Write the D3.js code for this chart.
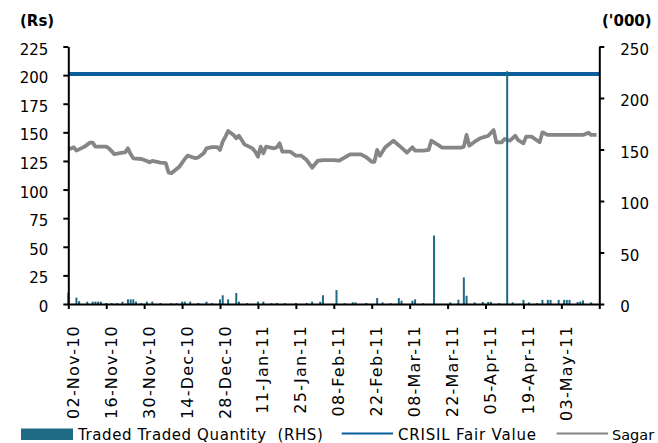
<!DOCTYPE html>
<html>
<head>
<meta charset="utf-8">
<script src="https://cdn.jsdelivr.net/npm/d3@7"></script>
<style>
body { margin: 0; background: #fff; }
text { font-family: "DejaVu Sans", Verdana, sans-serif; }
</style>
</head>
<body>
<div id="chart"></div>
<script>
//Chart values
var priceDates = ["2010-11-02","2010-11-04","2010-11-05","2010-11-08","2010-11-10","2010-11-11","2010-11-12",
    "2010-11-16","2010-11-17","2010-11-19","2010-11-22","2010-11-23","2010-11-24","2010-11-25","2010-11-26",
    "2010-11-29","2010-12-01","2010-12-02","2010-12-03","2010-12-06","2010-12-08","2010-12-09","2010-12-10",
    "2010-12-13","2010-12-15","2010-12-16","2010-12-19","2010-12-20","2010-12-22","2010-12-23","2010-12-25",
    "2010-12-27","2010-12-28","2010-12-29","2010-12-30","2010-12-31","2011-01-02","2011-01-03","2011-01-04",
    "2011-01-06","2011-01-09","2011-01-10","2011-01-11","2011-01-12","2011-01-13","2011-01-14","2011-01-17",
    "2011-01-18","2011-01-19","2011-01-20","2011-01-23","2011-01-25","2011-01-27","2011-01-29","2011-01-31",
    "2011-02-02","2011-02-04","2011-02-08","2011-02-10","2011-02-14","2011-02-18","2011-02-20","2011-02-22",
    "2011-02-23","2011-02-24","2011-02-25","2011-02-27","2011-03-02","2011-03-05","2011-03-07","2011-03-09",
    "2011-03-10","2011-03-13","2011-03-15","2011-03-16","2011-03-18","2011-03-20","2011-03-22","2011-03-27",
    "2011-03-28","2011-03-29","2011-03-30","2011-04-01","2011-04-03","2011-04-05","2011-04-06","2011-04-08",
    "2011-04-09","2011-04-11","2011-04-12","2011-04-14","2011-04-16","2011-04-17","2011-04-19","2011-04-20",
    "2011-04-22","2011-04-25","2011-04-26","2011-04-28","2011-05-01","2011-05-11","2011-05-13","2011-05-14",
    "2011-05-16"];
var priceValues = [135,137,134,137.5,141,141,137.5,
    137.5,136,131,132.2,132.5,136,131,127.3,
    126.7,125,123.8,125,123.5,123,115,114.2,
    120,126.7,129.6,127.3,128.2,131.7,136,137,
    137,134.6,141.8,146.2,151.2,147.7,144.8,147,
    139.5,136,133.1,128.7,137.5,131.7,137.5,136,
    137,140.4,133.1,133.1,129.6,129.6,125.8,119.1,
    125,125.8,125.8,125.2,130.8,130.8,128.2,124.3,
    124.3,134.6,129.6,137,142.7,136.6,132.2,137,
    134,134,134.6,142.7,139.8,136.6,136.6,136.6,
    137.5,147.7,138.3,141.8,144.8,146.2,147,152,
    141.3,141.3,144.2,142.7,147,143.3,140.4,146.2,
    146.2,141.3,150,147.7,147.7,147.7,149.7,147.7,
    147.7];

var qtyDates = ["2010-11-02","2010-11-05","2010-11-06","2010-11-09","2010-11-11","2010-11-12","2010-11-13",
    "2010-11-14","2010-11-16","2010-11-18","2010-11-20","2010-11-22","2010-11-24","2010-11-25","2010-11-26",
    "2010-11-27","2010-11-29","2010-12-01","2010-12-03","2010-12-06","2010-12-10","2010-12-12","2010-12-14",
    "2010-12-15","2010-12-17","2010-12-20","2010-12-23","2010-12-25","2010-12-28","2010-12-29","2010-12-31",
    "2011-01-03","2011-01-04","2011-01-07","2011-01-11","2011-01-13","2011-01-16","2011-01-18","2011-01-21",
    "2011-01-25","2011-01-29","2011-01-31","2011-02-03","2011-02-04","2011-02-09","2011-02-12","2011-02-15",
    "2011-02-16","2011-02-20","2011-02-24","2011-02-26","2011-03-01","2011-03-04","2011-03-05","2011-03-09",
    "2011-03-10","2011-03-13","2011-03-17","2011-03-23","2011-03-26","2011-03-28","2011-03-29","2011-04-01",
    "2011-04-04","2011-04-06","2011-04-07","2011-04-10","2011-04-13","2011-04-15","2011-04-19","2011-04-21",
    "2011-04-24","2011-04-26","2011-04-28","2011-04-29","2011-05-02","2011-05-04","2011-05-05","2011-05-06",
    "2011-05-09","2011-05-10","2011-05-11","2011-05-14"];
var qtyValues = [10.8,6.2,2.8,2.3,2.3,2.3,2.3,
    2.3,1,1,0.8,2.3,4.5,4.5,4.5,
    2.3,0.8,2.3,2.3,1,0.8,0.8,2.3,
    2.3,2.3,1,2.3,0.8,4.5,8.5,4.5,
    10.7,2.3,0.8,2.3,2.3,0.8,1,0.8,
    1,1,2.3,2.3,8.5,13.5,0.8,1.6,
    1.6,1,5.8,1.6,0.8,5.8,3.2,3.2,
    4.5,0.8,66.5,1.6,4.2,25.8,8,1.6,
    2,2,2,0.8,226,1.6,4,1.6,
    0.8,4,4,4,4,4,4,4,
    2,2.5,3.5,1.6];

var fairValue = 201;

var xTickLabels = ["02-Nov-10","16-Nov-10","30-Nov-10","14-Dec-10","28-Dec-10","11-Jan-11","25-Jan-11",
    "08-Feb-11","22-Feb-11","08-Mar-11","22-Mar-11","05-Apr-11","19-Apr-11","03-May-11"];
var xEnd = "17-May-11";
var leftTicks = [0, 25, 50, 75, 100, 125, 150, 175, 200, 225];
var rightTicks = [0, 50, 100, 150, 200, 250];
var legendLabels = ["Traded Traded Quantity  (RHS)", "CRISIL Fair Value", "Sagar"];

//SVG dimensions
var svgWidth = 658;
var svgHeight = 443;
var plot = { left: 68.3, right: 599.3, top: 46.5, bottom: 304 };

var barColor = "#1f6a85";
var fairColor = "#0a5e9c";
var priceColor = "#868686";

var svg = d3.select("#chart")
    .append("svg")
    .attr("width", svgWidth)
    .attr("height", svgHeight);

var parseIso = d3.timeParse("%Y-%m-%d");
var parseTick = d3.timeParse("%d-%b-%y");

var priceData = priceDates.map((d, i) => ({ date: parseIso(d), value: priceValues[i] }));
var qtyData = qtyDates.map((d, i) => ({ date: parseIso(d), value: qtyValues[i] }));
var tickDates = xTickLabels.map(parseTick);
var endDate = parseTick(xEnd);

//Scales
var xScale = d3.scaleTime()
    .domain([tickDates[0], endDate])
    .range([plot.left, plot.right]);

var yLeft = d3.scaleLinear()
    .domain([0, 225])
    .range([plot.bottom, plot.top]);

var yRight = d3.scaleLinear()
    .domain([0, 250])
    .range([plot.bottom, plot.top]);

//Sagar price line
var priceLine = d3.line()
    .x(d => xScale(d.date))
    .y(d => yLeft(d.value));

svg.append("path")
    .datum(priceData)
    .attr("fill", "none")
    .attr("stroke", priceColor)
    .attr("stroke-width", 3.8)
    .attr("stroke-linejoin", "round")
    .attr("d", priceLine);

//CRISIL fair value line
svg.append("path")
    .datum([tickDates[0], endDate])
    .attr("fill", "none")
    .attr("stroke", fairColor)
    .attr("stroke-width", 4)
    .attr("d", d3.line().x(d => xScale(d)).y(() => yLeft(fairValue)));

//Traded quantity bars (secondary axis, drawn on top like Excel)
svg.selectAll("rect.bar")
    .data(qtyData)
    .enter()
    .append("rect")
    .attr("class", "bar")
    .attr("x", d => xScale(d.date) - 1)
    .attr("width", 2)
    .attr("y", d => yRight(d.value))
    .attr("height", d => yRight(0) - yRight(d.value))
    .attr("fill", barColor);

//Axes
var allTicks = tickDates.concat([endDate]);
var bottomAxis = d3.axisBottom(xScale)
    .tickValues(allTicks)
    .tickSize(5)
    .tickSizeOuter(0)
    .tickFormat((d, i) => i < xTickLabels.length ? xTickLabels[i] : "");

var xAxisGroup = svg.append("g")
    .attr("transform", `translate(0, ${plot.bottom})`)
    .call(bottomAxis);

xAxisGroup.selectAll("text")
    .attr("transform", "rotate(-90)")
    .attr("text-anchor", "end")
    .attr("x", -21)
    .attr("y", 10)
    .attr("dy", 0)
    .attr("font-size", 16)
    .attr("letter-spacing", 1.2)
    .attr("fill", "#000");

var leftAxisGroup = svg.append("g")
    .attr("transform", `translate(${plot.left}, 0)`)
    .call(d3.axisLeft(yLeft).tickValues(leftTicks).tickSize(5).tickSizeOuter(0).tickPadding(15));

var rightAxisGroup = svg.append("g")
    .attr("transform", `translate(${plot.right}, 0)`)
    .call(d3.axisRight(yRight).tickValues(rightTicks).tickSize(5).tickSizeOuter(0).tickPadding(16));

[leftAxisGroup, rightAxisGroup].forEach(g => {
    g.selectAll("text")
        .attr("font-size", 15)
        .attr("dy", "0.5em")
        .attr("fill", "#000");
});

[xAxisGroup, leftAxisGroup, rightAxisGroup].forEach(g => {
    g.attr("font-family", null);
    g.select(".domain").attr("stroke", "#000").attr("stroke-width", 2);
    g.selectAll(".tick line").attr("stroke", "#000").attr("stroke-width", 2);
});

//Axis titles
svg.append("text")
    .attr("x", 20)
    .attr("y", 26)
    .attr("font-size", 15)
    .attr("font-weight", "bold")
    .text("(Rs)");

svg.append("text")
    .attr("x", 602)
    .attr("y", 26)
    .attr("font-size", 15)
    .attr("font-weight", "bold")
    .text("('000)");

//Legend
var legend = svg.append("g").attr("font-size", 15);

legend.append("rect")
    .attr("x", 21)
    .attr("y", 428.5)
    .attr("width", 52)
    .attr("height", 11.5)
    .attr("fill", barColor);

legend.append("text")
    .attr("x", 78)
    .attr("y", 440)
    .attr("letter-spacing", 0.6)
    .style("white-space", "pre")
    .text(legendLabels[0]);

legend.append("line")
    .attr("x1", 341.7).attr("x2", 393)
    .attr("y1", 433.5).attr("y2", 433.5)
    .attr("stroke", fairColor)
    .attr("stroke-width", 2);

legend.append("text")
    .attr("x", 398)
    .attr("y", 440)
    .attr("letter-spacing", 0.8)
    .text(legendLabels[1]);

legend.append("line")
    .attr("x1", 556.7).attr("x2", 608)
    .attr("y1", 433.5).attr("y2", 433.5)
    .attr("stroke", priceColor)
    .attr("stroke-width", 2);

legend.append("text")
    .attr("x", 612)
    .attr("y", 440)
    .attr("font-size", 14.5)
    .text(legendLabels[2]);
</script>
</body>
</html>
